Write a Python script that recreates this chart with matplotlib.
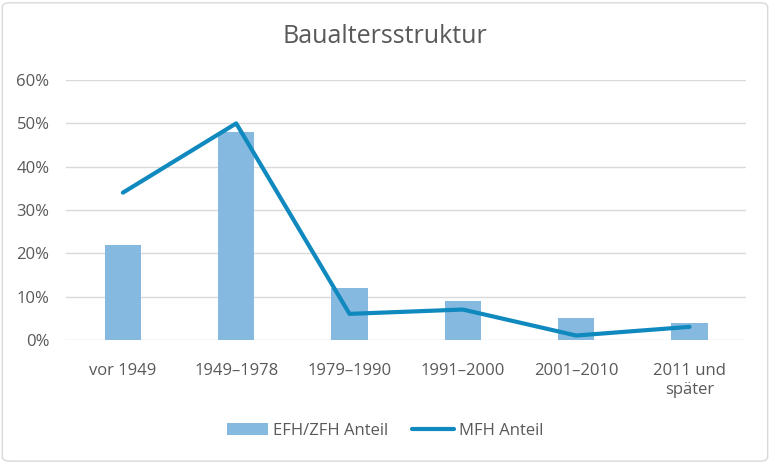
import numpy as np
import matplotlib.pyplot as plt
from matplotlib.patches import FancyBboxPatch

categories = ['vor 1949', '1949–1978', '1979–1990', '1991–2000', '2001–2010', '2011 und\nspäter']
efh_zfh = [0.22, 0.48, 0.12, 0.09, 0.05, 0.04]
mfh = [0.34, 0.50, 0.06, 0.07, 0.01, 0.03]

plt.rcParams.update({
    'font.family': ['Open Sans', 'DejaVu Sans'],
    'font.size': 10,
})

grey = '#595959'
fig = plt.figure(figsize=(7.7, 4.63), dpi=100)
ax = fig.add_axes([0.086, 0.266, 0.883, 0.561])

x = np.arange(len(categories))
bars = ax.bar(x, efh_zfh, width=0.32, color='#86B9E0', label='EFH/ZFH Anteil', zorder=2)
line, = ax.plot(x, mfh, color='#1089BE', linewidth=3, solid_capstyle='round', label='MFH Anteil', zorder=3)

ax.set_xlim(-0.5, len(categories) - 0.5)
ax.set_ylim(0, 0.6)
ticks = np.arange(0, 0.61, 0.1)
ax.set_yticks(ticks)
ax.set_yticklabels([f'{int(round(v * 100))}%' for v in ticks])
ax.set_xticks(x)
ax.set_xticklabels(categories, linespacing=1.25)
ax.tick_params(axis='both', length=0, colors=grey, labelsize=12)
ax.tick_params(axis='x', pad=17)
ax.tick_params(axis='y', pad=12)
ax.grid(axis='y', color='#D9D9D9', linewidth=1, zorder=0)
for s in ax.spines.values():
    s.set_visible(False)

fig.text(0.5, 0.922, 'Baualtersstruktur', ha='center', va='center', fontsize=18, color=grey)

ax.legend([bars, line], ['EFH/ZFH Anteil', 'MFH Anteil'], loc='center',
          bbox_to_anchor=(0.5, 0.069), bbox_transform=fig.transFigure,
          ncol=2, frameon=False, fontsize=12, labelcolor=grey, handlelength=2.5,
          handleheight=0.7, columnspacing=1.4, handletextpad=0.3)

border = FancyBboxPatch((0.003, 0.004), 0.994, 0.99, boxstyle='round,pad=0,rounding_size=0.01',
                        transform=fig.transFigure, facecolor='none', edgecolor='#D9D9D9', linewidth=1)
fig.patches.append(border)

fig.savefig('out.png', dpi=100)
